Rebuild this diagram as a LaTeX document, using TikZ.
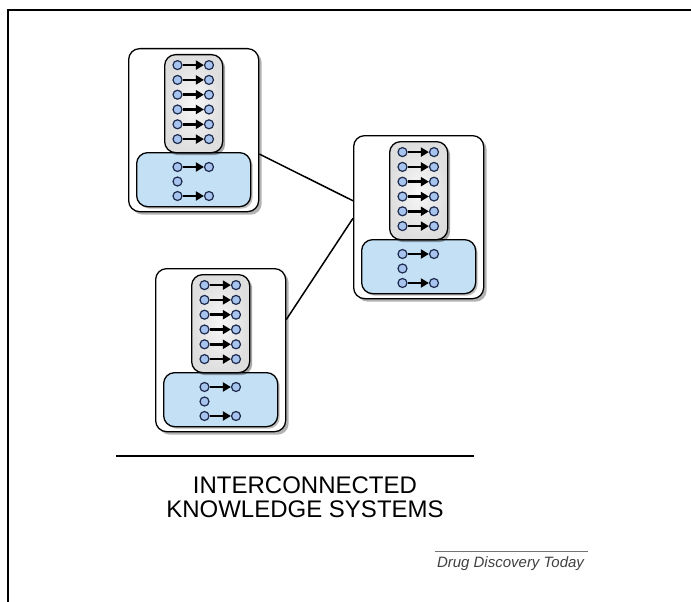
\documentclass[tikz,border=0pt]{standalone}
\usepackage{fontspec}
\setmainfont{Liberation Sans}
\usetikzlibrary{arrows.meta,shadows}

\definecolor{skyfill}{HTML}{C4E0F5}
\definecolor{dotblue}{HTML}{A6C4EE}
\definecolor{dotline}{HTML}{1E2A4C}

\begin{document}
\begin{tikzpicture}[
  x=1pt, y=-1pt,
  sysbox/.style  = {draw, line width=1.3pt, rounded corners=11pt,
                    fill=white, minimum width=130pt, minimum height=163pt,
                    anchor=north west, inner sep=0pt,
                    drop shadow={shadow xshift=3pt, shadow yshift=-3pt,
                                 opacity=0.3, fill=black}},
  rulebox/.style = {draw, line width=1.3pt, rounded corners=11pt,
                    inner color=black!3, outer color=black!13,
                    minimum width=58pt, minimum height=98pt,
                    anchor=north west, inner sep=0pt,
                    drop shadow={shadow xshift=2.5pt, shadow yshift=-2.5pt,
                                 opacity=0.35, fill=black}},
  factbox/.style = {draw, line width=1.3pt, rounded corners=11pt,
                    fill=skyfill, minimum width=114pt, minimum height=54pt,
                    anchor=north west, inner sep=0pt,
                    drop shadow={shadow xshift=2pt, shadow yshift=-2pt,
                                 opacity=0.25, fill=black}},
  kdot/.style    = {circle, draw=dotline, fill=dotblue, line width=1.2pt,
                    minimum size=9pt, inner sep=0pt},
  infer/.style   = {-{Triangle[length=8pt,width=9pt]}, line width=2.6pt},
  tie/.style     = {line width=1.5pt},
]
\useasboundingbox (0,0) rectangle (691,602);

% page frame
\draw[line width=2pt] (8,602) -- (8,10) -- (691,10);

% knowledge systems: rule base on top of fact base
\foreach \m/\mx/\my in {1/128/48, 2/353/135, 3/155/268} {
  \begin{scope}[shift={(\mx,\my)}]
    \node[sysbox]  (m\m)   at (0,0)  {};
    \node[factbox] (m\m-f) at (8,104) {};
    \node[rulebox] (m\m-r) at (36,6)  {};
    \foreach \i in {1,...,6} {
      \node[kdot] (m\m-r\i-a) at (49.5, {2.3+14.8*\i}) {};
      \node[kdot] (m\m-r\i-b) at (81,   {2.3+14.8*\i}) {};
      \draw[infer] (m\m-r\i-a) -- (m\m-r\i-b);
    }
    \node[kdot] (m\m-f1-a) at (49.5, 119) {};
    \node[kdot] (m\m-f1-b) at (81,   119) {};
    \node[kdot] (m\m-f2-a) at (49.5, 133.5) {};
    \node[kdot] (m\m-f3-a) at (49.5, 148) {};
    \node[kdot] (m\m-f3-b) at (81,   148) {};
    \draw[infer] (m\m-f1-a) -- (m\m-f1-b);
    \draw[infer] (m\m-f3-a) -- (m\m-f3-b);
  \end{scope}
}

% links between the systems
\draw[tie] (m1.-20) -- (m2.166);
\draw[tie] (m3.25)  -- (m2.181);

% caption
\draw[line width=2pt] (116,456) -- (474,456);
\node[anchor=base, font=\fontsize{24}{24}\selectfont] (title1) at (305,493)
  {INTERCONNECTED};
\node[anchor=base, font=\fontsize{24}{24}\selectfont] (title2) at (305,517)
  {KNOWLEDGE SYSTEMS};

\draw[black!55, line width=1pt] (435,551) -- (588,551);
\node[anchor=base, text=black!75, font=\fontsize{15}{15}\selectfont\itshape]
  (journal) at (510.5,567) {Drug Discovery Today};

\end{tikzpicture}
\end{document}
